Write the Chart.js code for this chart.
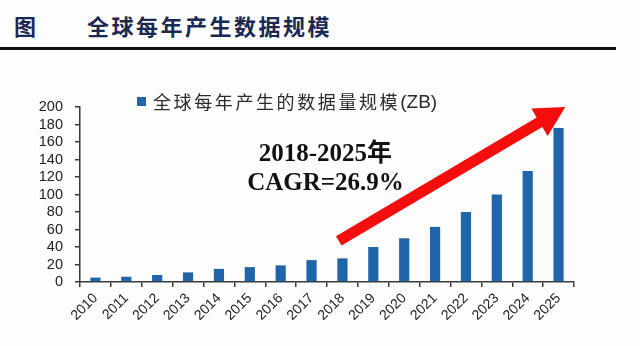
<!DOCTYPE html>
<html>
<head>
<meta charset="utf-8">
<script src="https://cdn.jsdelivr.net/npm/chart.js@4/dist/chart.umd.min.js"></script>
<style>
  html, body { margin: 0; padding: 0; background: #fdfdfd; }
  #wrap { position: relative; width: 640px; height: 346px; overflow: hidden; }
  #title {
    position: absolute; left: 0; top: 0; width: 616px; height: 47px;
    border-bottom: 3px solid #111;
    font-family: "Noto Sans CJK SC", sans-serif; font-weight: 700;
    font-size: 22px; color: #1b2852; letter-spacing: 2.5px;
  }
  #title .fig { position: absolute; left: 14px; top: 9px; }
  #title .name { position: absolute; left: 87px; top: 9px; }
  #chart { position: absolute; left: 0; top: 0; }
</style>
</head>
<body>
<div id="wrap">
  <div id="title"><span class="fig">图</span><span class="name">全球每年产生数据规模</span></div>
  <canvas id="chart" width="640" height="346"></canvas>
</div>
<script>
// Yearly data volume, ZB
const years = ["2010", "2011", "2012", "2013", "2014", "2015", "2016", "2017",
  "2018", "2019", "2020", "2021", "2022", "2023", "2024", "2025"];
const dataVolume = [5, 6, 8, 11, 15, 17, 19, 25, 27, 40, 50, 63, 80, 100, 127, 176];
const seriesLabel = "全球每年产生的数据量规模";
const seriesUnit = "(ZB)";
const yTicks = [0, 20, 40, 60, 80, 100, 120, 140, 160, 180, 200];

// Growth callout: text lines and arrow, placed in (category index, value) units
const cagrLines = ["2018-2025年", "CAGR=26.9%"];
const cagrAnchor = { x: 7.45, y: [145.5, 112] };
const arrowFrom = { x: 7.88, y: 47 };
const arrowTo = { x: 15.22, y: 200 };

const barBlue = "#1f65a8";
const axisColor = "#3a3a3a";

// Legend drawn by hand so it can sit off-centre above the plot
const legendPlugin = {
  id: "sideLegend",
  afterDraw(chart) {
    const ctx = chart.ctx;
    ctx.save();
    ctx.fillStyle = barBlue;
    ctx.fillRect(137, 97, 9, 9);
    ctx.fillStyle = "#2b2b2b";
    ctx.textBaseline = "middle";
    ctx.font = '18px "Noto Sans CJK SC", sans-serif';
    ctx.letterSpacing = "2.6px";
    ctx.fillText(seriesLabel, 153, 102);
    const w = ctx.measureText(seriesLabel).width;
    ctx.letterSpacing = "0px";
    ctx.font = '19px Arial, "Liberation Sans", sans-serif';
    ctx.fillText(seriesUnit, 153 + w, 103);
    ctx.restore();
  },
};

const calloutPlugin = {
  id: "cagrCallout",
  afterDatasetsDraw(chart) {
    const { ctx, scales } = chart;
    const xs = scales.x, ys = scales.y;
    const catX = (i) => xs.getPixelForValue(0) + i * (xs.getPixelForValue(1) - xs.getPixelForValue(0));

    // arrow
    const x1 = catX(arrowFrom.x), y1 = ys.getPixelForValue(arrowFrom.y);
    const x2 = catX(arrowTo.x), y2 = ys.getPixelForValue(arrowTo.y);
    const ang = Math.atan2(y2 - y1, x2 - x1);
    const shaft = 5.5, headLen = 30, headHalf = 16;
    const len = Math.hypot(x2 - x1, y2 - y1);
    ctx.save();
    ctx.translate(x1, y1);
    ctx.rotate(ang);
    ctx.fillStyle = "#f40e0e";
    ctx.beginPath();
    ctx.moveTo(0, -shaft);
    ctx.lineTo(len - headLen, -shaft);
    ctx.lineTo(len - headLen, -headHalf);
    ctx.lineTo(len, 0);
    ctx.lineTo(len - headLen, headHalf);
    ctx.lineTo(len - headLen, shaft);
    ctx.lineTo(0, shaft);
    ctx.closePath();
    ctx.fill();
    ctx.restore();

    // text
    ctx.save();
    ctx.fillStyle = "#111";
    ctx.font = 'bold 25px "Liberation Serif", "Times New Roman", "Noto Sans CJK SC", serif';
    ctx.textAlign = "center";
    ctx.textBaseline = "middle";
    cagrLines.forEach((line, i) => {
      ctx.fillText(line, catX(cagrAnchor.x), ys.getPixelForValue(cagrAnchor.y[i]));
    });
    ctx.restore();
  },
};

new Chart(document.getElementById("chart"), {
  type: "bar",
  data: {
    labels: years,
    datasets: [
      {
        label: seriesLabel + seriesUnit,
        data: dataVolume,
        backgroundColor: barBlue,
        barPercentage: 0.33,
        categoryPercentage: 1,
      },
    ],
  },
  options: {
    responsive: false,
    animation: false,
    layout: { padding: { left: 0, top: 107, right: 66, bottom: 0 } },
    plugins: { legend: { display: false }, tooltip: { enabled: false } },
    scales: {
      x: {
        afterFit: (scale) => { scale.height = 64; },
        grid: { drawOnChartArea: false, color: axisColor, lineWidth: 1.5, tickLength: 5 },
        border: { color: axisColor, width: 1.5 },
        ticks: {
          color: "#222",
          font: { family: "Arial, 'Liberation Sans'", size: 14 },
          minRotation: 45,
          maxRotation: 45,
          autoSkip: false,
          padding: 3,
        },
      },
      y: {
        min: 0,
        max: 200,
        afterFit: (scale) => { scale.width = 80; },
        afterBuildTicks: (scale) => { scale.ticks = yTicks.map((v) => ({ value: v })); },
        grid: { drawOnChartArea: false, color: axisColor, lineWidth: 1.5, tickLength: 5 },
        border: { color: axisColor, width: 1.5 },
        ticks: {
          color: "#222",
          font: { family: "Arial, 'Liberation Sans'", size: 14.5 },
          autoSkip: false,
          padding: 12,
        },
      },
    },
  },
  plugins: [legendPlugin, calloutPlugin],
});
</script>
</body>
</html>
